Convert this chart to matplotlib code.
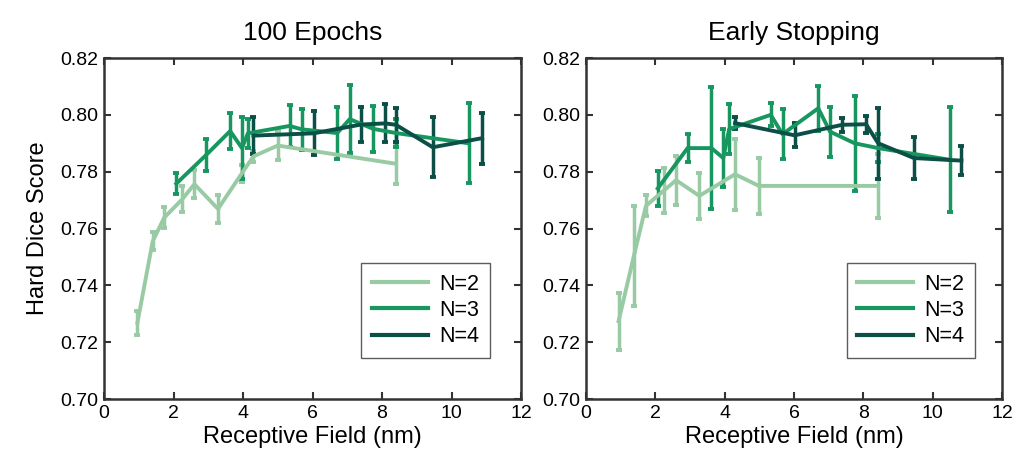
import matplotlib
matplotlib.use("Agg")
import matplotlib.pyplot as plt
from matplotlib.lines import Line2D

plt.rcParams['font.family'] = ['Liberation Sans', 'DejaVu Sans']

# receptive field (nm), mean hard dice, half error bar
# --- 100 epochs ---
ep_x2 = [0.96, 1.40, 1.73, 2.25, 2.60, 3.28, 3.97, 4.30, 5.00, 8.40]
ep_y2 = [0.7268, 0.7555, 0.7638, 0.7703, 0.7756, 0.7669, 0.7795, 0.7854, 0.7892, 0.7828]
ep_e2 = [0.0041, 0.0032, 0.0037, 0.0046, 0.0049, 0.0050, 0.0030, 0.0020, 0.0052, 0.0073]

ep_x3 = [2.08, 2.94, 3.63, 3.97, 4.14, 5.34, 5.69, 6.71, 7.07, 7.74, 8.40, 10.49]
ep_y3 = [0.7758, 0.7859, 0.7943, 0.7883, 0.7935, 0.7961, 0.7949, 0.7936, 0.7985, 0.7951, 0.7936, 0.7900]
ep_e3 = [0.0037, 0.0055, 0.0063, 0.0110, 0.0050, 0.0075, 0.0072, 0.0090, 0.0120, 0.0080, 0.0050, 0.0140]

ep_x4 = [4.30, 6.03, 7.40, 8.09, 8.40, 9.46, 10.88]
ep_y4 = [0.7927, 0.7935, 0.7966, 0.7970, 0.7965, 0.7886, 0.7918]
ep_e4 = [0.0065, 0.0077, 0.0060, 0.0067, 0.0060, 0.0105, 0.0090]

# --- early stopping ---
es_x2 = [0.94, 1.38, 1.73, 2.24, 2.60, 3.27, 4.30, 4.99, 8.43]
es_y2 = [0.7274, 0.7503, 0.7680, 0.7733, 0.7770, 0.7715, 0.7791, 0.7750, 0.7750]
es_e2 = [0.0100, 0.0175, 0.0037, 0.0080, 0.0086, 0.0082, 0.0125, 0.0098, 0.0112]

es_x3 = [2.07, 2.93, 3.62, 3.96, 4.13, 5.33, 5.67, 6.70, 7.04, 7.75, 8.43, 10.49]
es_y3 = [0.7741, 0.7883, 0.7883, 0.7848, 0.7950, 0.8000, 0.7932, 0.8023, 0.7941, 0.7900, 0.7883, 0.7842]
es_e3 = [0.0063, 0.0050, 0.0215, 0.0103, 0.0088, 0.0040, 0.0088, 0.0080, 0.0088, 0.0167, 0.0050, 0.0185]

es_x4 = [4.30, 6.02, 7.39, 8.08, 8.43, 9.46, 10.83]
es_y4 = [0.7971, 0.7928, 0.7965, 0.7967, 0.7900, 0.7848, 0.7839]
es_e4 = [0.0020, 0.0042, 0.0024, 0.0030, 0.0124, 0.0073, 0.0050]

labels = ["N=2", "N=3", "N=4"]
colors = ["#98CBA3", "#17975F", "#0C4F47"]
titles = ["100 Epochs", "Early Stopping"]

panels = [
    [(ep_x2, ep_y2, ep_e2), (ep_x3, ep_y3, ep_e3), (ep_x4, ep_y4, ep_e4)],
    [(es_x2, es_y2, es_e2), (es_x3, es_y3, es_e3), (es_x4, es_y4, es_e4)],
]

fig = plt.figure(figsize=(10.25, 4.68), dpi=100)
ax_left = fig.add_axes([0.1015, 0.1474, 0.4068, 0.7286])
ax_right = fig.add_axes([0.5717, 0.1474, 0.4058, 0.7286])
anchors = [(0.925, 0.12), (0.935, 0.12)]

for ax, series, title, anchor in zip([ax_left, ax_right], panels, titles, anchors):
    for (x, y, e), c in zip(series, colors):
        ax.errorbar(x, y, yerr=e, color=c, lw=2.8, elinewidth=2.5,
                    capsize=2.2, capthick=2.8)
    ax.set_xlim(0, 12)
    ax.set_ylim(0.70, 0.82)
    ax.set_xticks(range(0, 13, 2))
    ax.set_yticks([0.70, 0.72, 0.74, 0.76, 0.78, 0.80, 0.82])
    ax.set_yticklabels(["%.2f" % v for v in ax.get_yticks()])
    ax.tick_params(direction="in", top=True, right=True, length=5, width=1.5,
                   labelsize=14, color="#333333", pad=4)
    for s in ax.spines.values():
        s.set_linewidth(1.8)
        s.set_color("#333333")
    ax.set_title(title, fontsize=19, pad=13)
    ax.set_xlabel("Receptive Field (nm)", fontsize=17, labelpad=3)
    handles = [Line2D([], [], color=c, lw=3) for c in colors]
    leg = ax.legend(handles, labels, loc="lower right", bbox_to_anchor=anchor,
                    fontsize=15.5, fancybox=False, edgecolor="#333333",
                    handlelength=2.6, borderpad=0.5, labelspacing=0.25,
                    handletextpad=0.5, borderaxespad=0)
    leg.get_frame().set_linewidth(1.0)

ax_left.set_ylabel("Hard Dice Score", fontsize=17, labelpad=8)

fig.savefig("out.png", dpi=100)
